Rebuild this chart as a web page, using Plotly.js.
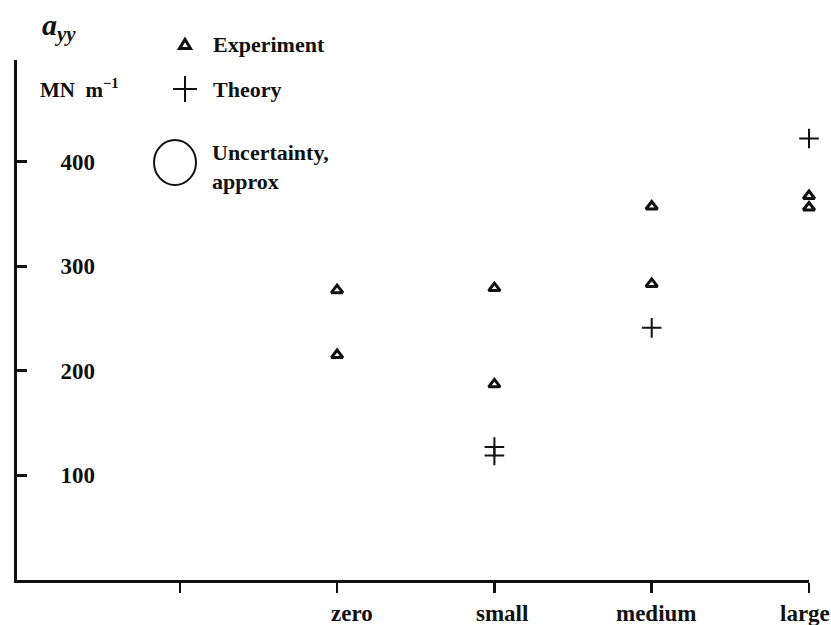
<!DOCTYPE html>
<html>
<head>
<meta charset="utf-8">
<script src="https://cdn.plot.ly/plotly-3.0.1.min.js"></script>
<style>html,body{margin:0;padding:0;background:#fff;}#chart{width:831px;height:625px;}</style>
</head>
<body>
<div id="chart"></div>
<script>
// ---- data ----
var categories = ['zero', 'small', 'medium', 'large'];
var tickLabels = ['', 'zero', 'small', 'medium', 'large'];
var yTickValues = [100, 200, 300, 400];
var yTickLabels = ['100', '200', '300', '400'];

var expCategory = ['zero', 'zero', 'small', 'small', 'medium', 'medium', 'large', 'large'];
var expValues   = [277, 215, 279, 187, 357, 283, 367, 356];

var theoryCategory = ['small', 'small', 'medium', 'large'];
var theoryValues   = [127, 119, 241, 422];

// category -> position on the numeric x axis (first tick is an unlabelled slot)
function catPos(c) { return categories.indexOf(c) + 2; }
var tickPositions = tickLabels.map(function (_, i) { return i + 1; });

var W = 831, H = 625, ML = 17, MR = 22, MT = 60, MB = 45;
var PW = W - ML - MR, PH = H - MT - MB;
function px(x) { return (x - ML) / PW; }
function py(y) { return (H - MB - y) / PH; }

var serif = 'Liberation Serif, Times New Roman, serif';

var traces = [
  {
    type: 'scatter', mode: 'markers', name: 'Experiment',
    x: expCategory.map(catPos), y: expValues, cliponaxis: false,
    marker: { symbol: 'triangle-up-open', size: 10, color: '#111', line: { width: 3, color: '#111' } },
    showlegend: false, hoverinfo: 'skip'
  },
  {
    type: 'scatter', mode: 'markers', name: 'Theory',
    x: theoryCategory.map(catPos), y: theoryValues, cliponaxis: false,
    marker: { symbol: 'cross-thin', size: 14, color: '#111', line: { width: 2, color: '#111' } },
    showlegend: false, hoverinfo: 'skip'
  }
];

var shapes = [
  // legend keys
  { type: 'path', xref: 'paper', yref: 'paper',
    path: 'M' + px(179.5) + ',' + py(48.5) + ' L' + px(190.5) + ',' + py(48.5) + ' L' + px(185) + ',' + py(39.5) + ' Z',
    line: { color: '#111', width: 3 } },
  { type: 'line', xref: 'paper', yref: 'paper', x0: px(173), x1: px(197), y0: py(89), y1: py(89), line: { color: '#111', width: 2 } },
  { type: 'line', xref: 'paper', yref: 'paper', x0: px(185), x1: px(185), y0: py(76), y1: py(102), line: { color: '#111', width: 2 } },
  { type: 'circle', xref: 'paper', yref: 'paper', x0: px(154), x1: px(196), y0: py(185), y1: py(140), line: { color: '#111', width: 2 } }
];

function ann(text, x, y, size) {
  return { text: text, xref: 'paper', yref: 'paper', x: px(x), y: py(y), xanchor: 'left', yanchor: 'middle',
           align: 'left', showarrow: false, font: { family: serif, size: size, color: '#111', weight: 'bold' } };
}

var annotations = [
  ann('<b><i>a<sub>yy</sub></i></b>', 40, 27, 30),
  ann('<b>MN  m<sup>\u22121</sup></b>', 38, 88, 21),
  ann('<b>Experiment</b>', 211, 44, 22),
  ann('<b>Theory</b>', 211, 89, 22),
  ann('<b>Uncertainty,<br>approx</b>', 210, 167, 22)
];

// category labels under the x axis (the printed labels sit slightly off their ticks)
var labelNudge = [0, 15, 8, 5, -4];
tickLabels.forEach(function (t, i) {
  if (!t) return;
  annotations.push({
    text: '<b>' + t + '</b>', xref: 'x', yref: 'paper', x: tickPositions[i], y: 0,
    xanchor: 'center', yanchor: 'top', xshift: labelNudge[i], yshift: -20, borderpad: 0,
    showarrow: false, font: { family: serif, size: 23, color: '#111', weight: 'bold' }
  });
});

var layout = {
  width: W, height: H,
  margin: { l: ML, r: MR, t: MT, b: MB, pad: 0 },
  paper_bgcolor: '#fff', plot_bgcolor: '#fff',
  showlegend: false,
  xaxis: {
    range: [-0.035, 5], showgrid: false, zeroline: false,
    showline: true, linecolor: '#111', linewidth: 3,
    tickmode: 'array', tickvals: tickPositions, ticktext: tickLabels, showticklabels: false,
    ticks: 'outside', ticklen: 10, tickwidth: 2.5, tickcolor: '#111'
  },
  yaxis: {
    range: [0, 497], showgrid: false, zeroline: false,
    showline: true, linecolor: '#111', linewidth: 3,
    tickmode: 'array', tickvals: yTickValues, ticktext: yTickLabels,
    ticks: 'inside', ticklen: 10, tickwidth: 3, tickcolor: '#111',
    ticklabelposition: 'inside', ticklabelstandoff: 35, ticklabeloverflow: 'allow',
    tickfont: { family: serif, size: 23, color: '#111', weight: 'bold' }
  },
  shapes: shapes,
  annotations: annotations
};

Plotly.newPlot('chart', traces, layout, { staticPlot: true, displayModeBar: false });
</script>
</body>
</html>
